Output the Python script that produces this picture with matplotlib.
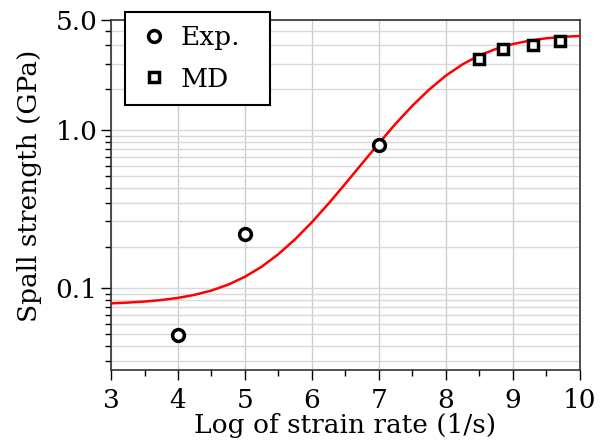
import matplotlib
matplotlib.use('Agg')
import matplotlib.pyplot as plt
import numpy as np
from matplotlib.ticker import FixedLocator, FixedFormatter

plt.rcParams['font.family'] = 'DejaVu Serif'
plt.rcParams['font.size'] = 19

# experimental spall strength
exp_x = [4.0, 5.0, 7.0]
exp_y = [0.050, 0.221, 0.80]

# molecular dynamics results
md_x = [8.5, 8.85, 9.3, 9.7]
md_y = [2.85, 3.26, 3.49, 3.67]

# fitted curve, read at 0.25 steps
fit_x = [3.0, 3.25, 3.5, 3.75, 4.0, 4.25, 4.5, 4.75, 5.0, 5.25, 5.5, 5.75,
         6.0, 6.25, 6.5, 6.75, 7.0, 7.25, 7.5, 7.75, 8.0, 8.25, 8.5, 8.75,
         9.0, 9.25, 9.5, 9.75, 10.0]
fit_y = [0.0797, 0.0806, 0.0818, 0.0836, 0.0863, 0.0903, 0.0961, 0.1048,
         0.1175, 0.1362, 0.1636, 0.2034, 0.2609, 0.343, 0.458, 0.616, 0.826,
         1.10, 1.43, 1.81, 2.22, 2.62, 2.98, 3.28, 3.52, 3.70, 3.83, 3.91,
         3.96]

x_ticks = [3, 4, 5, 6, 7, 8, 9, 10]
y_ticks = [0.1, 1.0, 5.0]
y_tick_labels = ['0.1', '1.0', '5.0']

fig = plt.figure(figsize=(6.11, 4.41), dpi=100)
ax = fig.add_axes([0.1817, 0.161, 0.949 - 0.1817, 0.9546 - 0.161])

ax.plot(fit_x, fit_y, color='red', linewidth=1.8, zorder=3)
ax.plot(exp_x, exp_y, 'o', mfc='white', mec='black', mew=2.5, ms=8.5,
        label='Exp.', zorder=4)
ax.plot(md_x, md_y, 's', mfc='white', mec='black', mew=2.5, ms=7.5,
        label='MD', zorder=4)

ax.set_yscale('log')
ax.set_xlim(3, 10)
ax.set_ylim(0.0301, 5.0)

ax.xaxis.set_major_locator(FixedLocator(x_ticks))
ax.xaxis.set_minor_locator(FixedLocator(np.arange(3.5, 10, 1.0)))

minor_y = np.concatenate([np.linspace(0.01, 0.1, 12)[1:-1],
                          np.linspace(0.1, 1.0, 12)[1:-1],
                          np.linspace(1.0, 10.0, 12)[1:-1]])
minor_y = minor_y[(minor_y > 0.0301) & (minor_y < 5.0)]
ax.yaxis.set_major_locator(FixedLocator(y_ticks))
ax.yaxis.set_major_formatter(FixedFormatter(y_tick_labels))
ax.yaxis.set_minor_locator(FixedLocator(minor_y))
ax.yaxis.set_minor_formatter(FixedFormatter([''] * len(minor_y)))

ax.tick_params(which='major', length=7, width=1, direction='out')
ax.tick_params(which='minor', length=4, width=1, direction='out')
ax.tick_params(axis='x', which='major', pad=6)
ax.tick_params(axis='y', which='major', pad=3)

ax.grid(which='major', axis='x', color='#cccccc', linewidth=1)
ax.grid(which='both', axis='y', color='#d8d8d8', linewidth=1)
ax.set_axisbelow(True)

for s in ax.spines.values():
    s.set_color('#333333')
    s.set_linewidth(1.2)

ax.set_xlabel('Log of strain rate (1/s)', labelpad=0)
ax.set_ylabel('Spall strength (GPa)')
ax.yaxis.set_label_coords(-0.148, 0.526)

leg = ax.legend(loc='upper left', bbox_to_anchor=(0.03, 0.5, 0.309, 0.523),
                mode='expand', borderaxespad=0, fancybox=False, framealpha=1,
                handletextpad=0.4, handlelength=1.2, borderpad=0.5,
                labelspacing=0.62)
leg.get_frame().set_edgecolor('black')
leg.get_frame().set_linewidth(1.5)

fig.savefig('out.png', dpi=100)
